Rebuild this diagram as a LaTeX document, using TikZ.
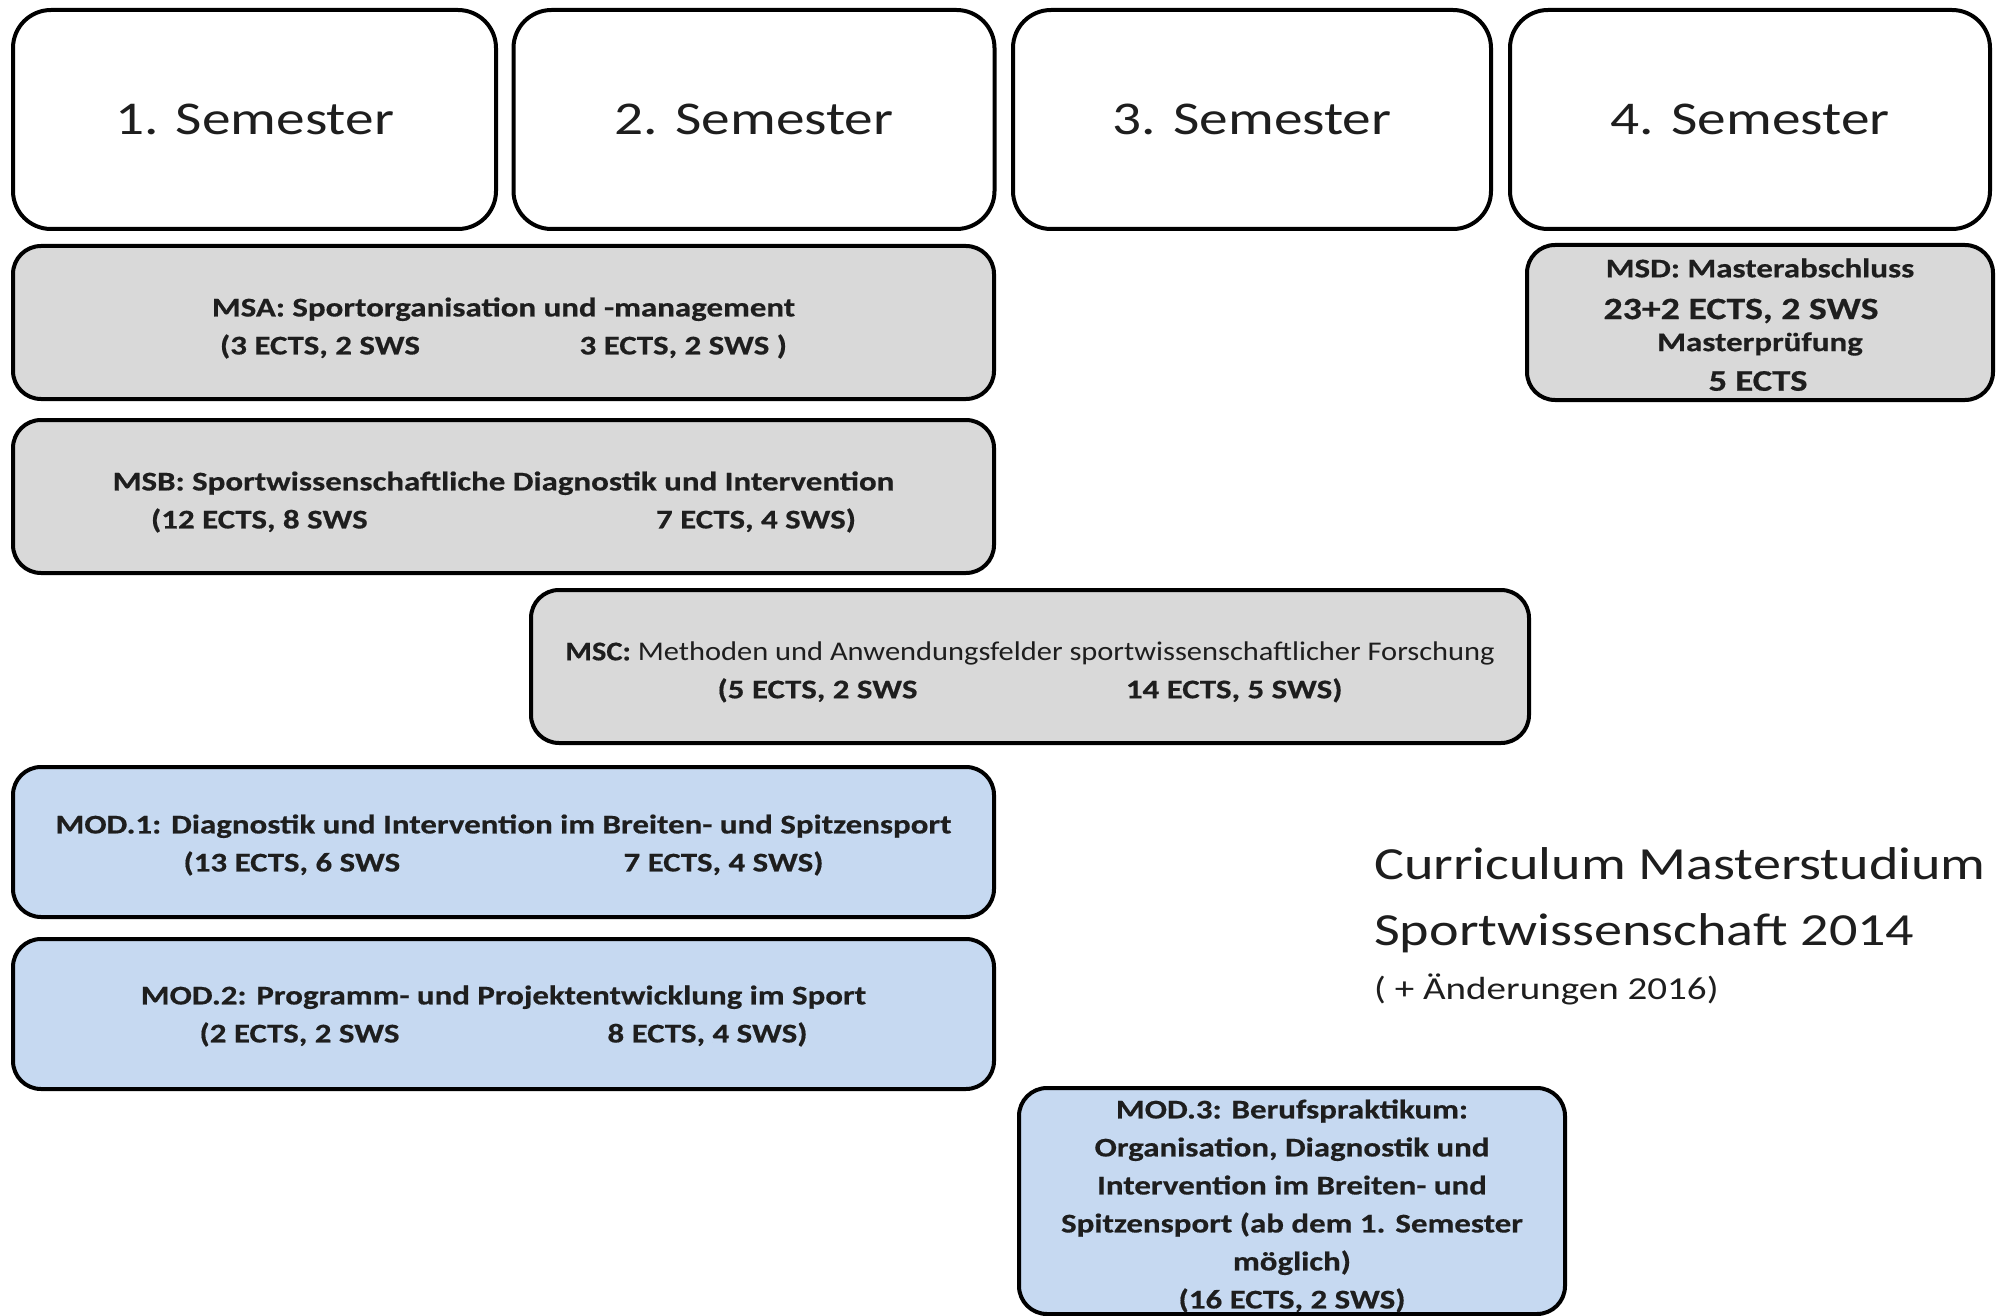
\documentclass[tikz,border=0pt]{standalone}
\usepackage{graphicx}
\usepackage{fontspec}
\setmainfont{Carlito}[FakeStretch=1.22, BoldFeatures={FakeBold=0.5}]
\definecolor{boxgray}{HTML}{D9D9D9}
\definecolor{boxblue}{HTML}{C6D9F1}
\definecolor{txt}{HTML}{1E1E1E}
\tikzset{
  sem/.style={draw=black, line width=4pt, rounded corners=38pt, fill=white, inner sep=0pt,
    font=\fontsize{47}{56}\selectfont, text=txt},
  greybox/.style={draw=black, line width=4pt, rounded corners=28pt, fill=boxgray, inner sep=0pt},
  bluebox/.style={greybox, fill=boxblue},
  lbl/.style={inner sep=0pt, align=center, font=\bfseries\fontsize{27}{38}\selectfont, text=txt},
  plain/.style={inner sep=0pt, text=txt},
}
\begin{document}
\begin{tikzpicture}[x=1pt,y=-1pt]
\useasboundingbox (0,0) rectangle (1998,1316);
\fill[white] (0,0) rectangle (1998,1316);
% semester headers
\node[sem, minimum width=483pt, minimum height=219pt] (s1) at (254.5,119.5) {1. Semester};
\node[sem, minimum width=481pt, minimum height=219pt] (s2) at (754,119.5) {2. Semester};
\node[sem, minimum width=478pt, minimum height=219pt] (s3) at (1252,119.5) {3. Semester};
\node[sem, minimum width=480pt, minimum height=219pt] (s4) at (1750,119.5) {4. Semester};
% module boxes
\node[greybox, minimum width=981pt, minimum height=153pt] (msa) at (503.5,322.5) {};
\node[greybox, minimum width=981pt, minimum height=153pt] (msb) at (503.5,496.5) {};
\node[greybox, minimum width=998pt, minimum height=153pt] (msc) at (1030,666.5) {};
\node[bluebox, minimum width=981pt, minimum height=150pt] (mod1) at (503.5,842) {};
\node[bluebox, minimum width=981pt, minimum height=150pt] (mod2) at (503.5,1014) {};
\node[bluebox, minimum width=546pt, minimum height=226pt] (mod3) at (1292,1201) {};
\node[greybox, minimum width=466pt, minimum height=155pt] (msd) at (1760,322.5) {};
% module texts
\node[lbl] (msat) at (503.5,328)
  {MSA: Sportorganisation und -management\\\makebox[567pt]{(3 ECTS, 2 SWS\hfill 3 ECTS, 2 SWS )}};
\node[lbl] (msbt) at (503.5,502)
  {MSB: Sportwissenschaftliche Diagnostik und Intervention\\\makebox[705pt]{(12 ECTS, 8 SWS\hfill 7 ECTS, 4 SWS)}};
\node[lbl] (msct) at (1030,672)
  {\scalebox{0.925}[1]{MSC: {\mdseries Methoden und Anwendungsfelder sportwissenschaftlicher Forschung}}\\\makebox[625pt]{(5 ECTS, 2 SWS\hfill 14 ECTS, 5 SWS)}};
\node[lbl] (mod1t) at (503.5,845)
  {MOD.1: Diagnostik und Intervention im Breiten- und Spitzensport\\\makebox[640pt]{(13 ECTS, 6 SWS\hfill 7 ECTS, 4 SWS)}};
\node[lbl] (mod2t) at (503.5,1016)
  {MOD.2: Programm- und Projektentwicklung im Sport\\\makebox[608pt]{(2 ECTS, 2 SWS\hfill 8 ECTS, 4 SWS)}};
\node[lbl] (mod3t) at (1292,1206)
  {MOD.3: Berufspraktikum:\\Organisation, Diagnostik und\\Intervention im Breiten- und\\Spitzensport (ab dem 1. Semester\\möglich)\\(16 ECTS, 2 SWS)};
% MSD texts
\node[plain, font=\bfseries\fontsize{27}{32}\selectfont] (msd1) at (1760,268) {MSD: Masterabschluss};
\node[plain, font=\bfseries\fontsize{31}{36}\selectfont] (msd2) at (1741,311) {23+2 ECTS, 2 SWS};
\node[plain, font=\bfseries\fontsize{27}{32}\selectfont] (msd3) at (1760,344) {Masterprüfung};
\node[plain, font=\bfseries\fontsize{30}{36}\selectfont] (msd4) at (1758,381) {5 ECTS};
% title
\node[plain, anchor=west, font=\fontsize{46}{54}\selectfont] (t1) at (1374,864) {Curriculum Masterstudium};
\node[plain, anchor=west, font=\fontsize{46}{54}\selectfont] (t2) at (1374,933) {Sportwissenschaft 2014};
\node[plain, anchor=west, font=\fontsize{32}{38}\selectfont] (t3) at (1374,989) {( + Änderungen 2016)};
\end{tikzpicture}
\end{document}
